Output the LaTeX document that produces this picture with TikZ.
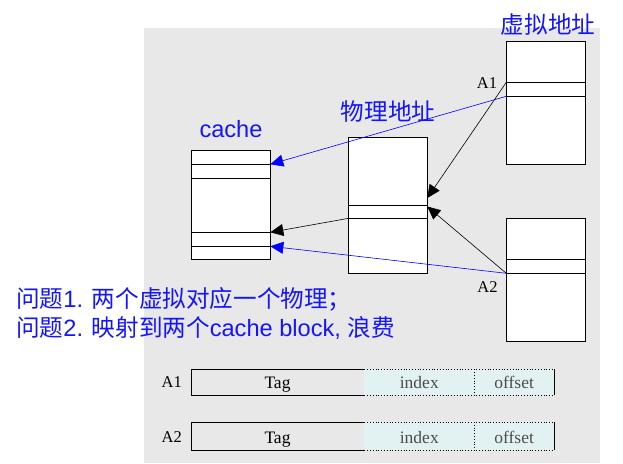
\documentclass[tikz,border=0pt]{standalone}
\usepackage{fontspec}
\newfontfamily\cjk{Noto Sans CJK SC}
\newfontfamily\arial{Liberation Sans}
\newfontfamily\tnr{Liberation Serif}
\usetikzlibrary{arrows.meta}
\definecolor{bggray}{RGB}{232,232,232}
\definecolor{cyanfill}{RGB}{226,242,242}
\definecolor{txtblue}{RGB}{20,20,255}
\newcommand{\bigsz}{\fontsize{23.6}{27}\selectfont}
\tikzset{
  box/.style={draw=black, line width=0.9pt, fill=white, inner sep=0pt, outer sep=0pt, anchor=north west},
  slot/.style={draw=black, line width=0.9pt},
  conn/.style={line width=0.6pt, -{Triangle[length=13pt,width=12pt]}},
  bconn/.style={conn, draw=blue, -{Triangle[length=13pt,width=12pt,fill=blue]}},
  title/.style={text=txtblue, font=\cjk\bigsz, inner sep=0pt},
  lbl/.style={font=\tnr\fontsize{16.5}{19}\selectfont, inner sep=0pt},
  ftxt/.style={font=\tnr\fontsize{17.5}{20}\selectfont, inner sep=0pt, anchor=base},
  field/.style={inner sep=0pt, outer sep=0pt, anchor=north west},
}
\begin{document}
\begin{tikzpicture}[x=1pt,y=-1pt]
\useasboundingbox (0,0) rectangle (623,463);
\fill[bggray] (144,28) rectangle (600,463);

% virtual address boxes
\node[box, minimum width=79pt, minimum height=123pt] (v1) at (506.3,41.3) {};
\node[box, minimum width=79pt, minimum height=123pt] (v2) at (506.3,218.3) {};
% physical box
\node[box, minimum width=78.6pt, minimum height=136pt] (p) at (348.7,137.3) {};
% cache box
\node[box, minimum width=79pt, minimum height=108.7pt] (c) at (191.3,150.3) {};

% slot lines
\coordinate (v1a) at (506.3,82.3);  \coordinate (v1b) at (506.3,96.3);
\coordinate (v2a) at (506.3,259.3); \coordinate (v2b) at (506.3,273.3);
\coordinate (pa) at (348.7,205.3);  \coordinate (pb) at (348.7,218.3);
\coordinate (ca) at (191.3,164.3);  \coordinate (cb) at (191.3,178.3);
\coordinate (cc) at (191.3,232.3);  \coordinate (cd) at (191.3,246.3);
\foreach \n/\b in {v1a/v1,v1b/v1,v2a/v2,v2b/v2,pa/p,pb/p,ca/c,cb/c,cc/c,cd/c}
  \draw[slot] (\n) -- (\n -| \b.east);

% arrow targets
\coordinate (pt1) at (427.3,198);
\coordinate (pt2) at (427.3,206.5);
\coordinate (ct1) at (270.3,164.3);
\coordinate (ct2) at (270.3,232.3);
\coordinate (ct3) at (270.3,246.3);

\draw[bconn] (v1b) -- (ct1);
\draw[conn] (v1a) -- (pt1);
\draw[conn] (v2b) -- (pt2);
\draw[conn] (pb) -- (ct2);
\draw[bconn] (v2b) -- (ct3);

% labels
\node[lbl] (la1) at (487,83) {A1};
\node[lbl] (la2) at (487.5,287) {A2};
\node[title] (tv) at (548,25) {虚拟地址};
\node[title] (tp) at (388,112) {物理地址};
\node[text=txtblue, font=\arial\bigsz, inner sep=0pt] (tc) at (231,129) {cache};

\node[anchor=west, text=txtblue, inner sep=0pt, align=left] (q1) at (16,299)
  {{\cjk\bigsz 问题}{\arial\bigsz 1. }{\cjk\bigsz 两个虚拟对应一个物理；}};
\node[anchor=west, text=txtblue, inner sep=0pt, align=left] (q2) at (16,328)
  {{\cjk\bigsz 问题}{\arial\bigsz 2. }{\cjk\bigsz 映射到两个}{\arial\bigsz cache block, }{\cjk\bigsz 浪费}};

% address fields
\foreach \r/\y/\h/\bl in {1/369.3/26/388, 2/422/28/443}{
  \node[field, draw=black, line width=0.9pt, minimum width=173pt, minimum height=\h pt] (tag\r) at (191,\y) {};
  \node[field, fill=cyanfill, minimum width=110pt, minimum height=\h pt] (idx\r) at (364.3,\y) {};
  \node[field, fill=cyanfill, minimum width=79.7pt, minimum height=\h pt] (off\r) at (474.3,\y) {};
  \draw[dotted, line width=0.8pt] (idx\r.north west) -- (off\r.north east);
  \draw[dotted, line width=0.8pt] (idx\r.south west) -- (off\r.south east);
  \draw[dotted, line width=0.8pt] (off\r.north west) -- (off\r.south west);
  \draw[line width=0.9pt] (off\r.north east) -- (off\r.south east);
  \node[ftxt] at (tag\r.center |- 0,\bl) {Tag};
  \node[ftxt, text=black!70] at (idx\r.center |- 0,\bl) {index};
  \node[ftxt, text=black!70] at (off\r.center |- 0,\bl) {offset};
}
\node[lbl, anchor=base] (fa1) at (171.7,387) {A1};
\node[lbl, anchor=base] (fa2) at (171.7,442) {A2};
\end{tikzpicture}
\end{document}
